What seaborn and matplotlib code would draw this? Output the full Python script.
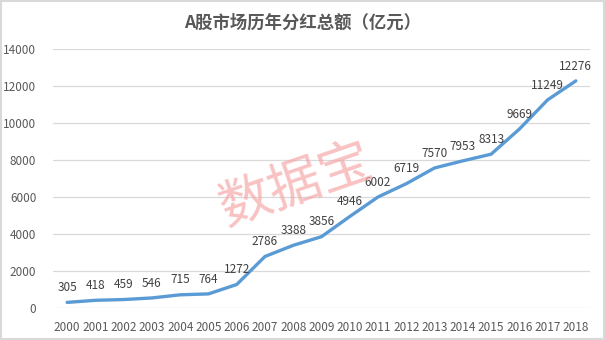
import matplotlib
matplotlib.use("Agg")
import matplotlib.pyplot as plt
import seaborn as sns
import pandas as pd

years = [str(y) for y in range(2000, 2019)]
dividends = [305, 418, 459, 546, 715, 764, 1272, 2786, 3388, 3856, 4946,
             6002, 6719, 7570, 7953, 8313, 9669, 11249, 12276]
y_ticks = [0, 2000, 4000, 6000, 8000, 10000, 12000, 14000]

sns.set_theme(style="white")
plt.rcParams['font.family'] = ['Noto Sans CJK SC', 'DejaVu Sans']

df = pd.DataFrame({"year": years, "value": dividends})
df["pos"] = range(len(df))

fig = plt.figure(figsize=(6.05, 3.4), dpi=100)
ax = fig.add_axes([0.0876, 0.094, 0.8876, 0.762])

for t in y_ticks:
    ax.axhline(t, color="#D9D9D9", lw=0.9, zorder=0)

sns.lineplot(data=df, x="pos", y="value", ax=ax, color="#5B9BD5", lw=2.4,
             solid_capstyle="round", zorder=3)

for p, v in zip(df["pos"], df["value"]):
    ax.annotate(str(v), (p, v), xytext=(0, 6), textcoords="offset points",
                ha="center", va="bottom", fontsize=8.5, color="#404040", zorder=4)

ax.set_xlim(-0.5, len(years) - 0.5)
ax.set_ylim(0, 14000)
ax.set_xticks(range(len(years)))
ax.set_xticklabels(years)
ax.set_yticks(y_ticks)
ax.set_yticklabels([str(t) for t in y_ticks])
ax.tick_params(axis="both", length=0, labelsize=8.5, colors="#595959")
ax.tick_params(axis="x", pad=9)
ax.tick_params(axis="y", pad=12)
ax.set_xlabel("")
ax.set_ylabel("")
for s in ax.spines.values():
    s.set_visible(False)

fig.text(0.5, 0.932, "A股市场历年分红总额（亿元）", ha="center", va="center",
         fontsize=12.5, fontweight="bold", color="#595959")

fig.text(0.49, 0.455, "数据宝", ha="center", va="center", fontsize=38,
         color="#F6A8A8", alpha=0.7, rotation=19, fontweight="light", zorder=1)

fig.patches.append(plt.Rectangle((0.002, 0.003), 0.996, 0.994, transform=fig.transFigure,
                                 fill=False, edgecolor="#D9D9D9", lw=1.5))

fig.savefig("out.png", dpi=100)
